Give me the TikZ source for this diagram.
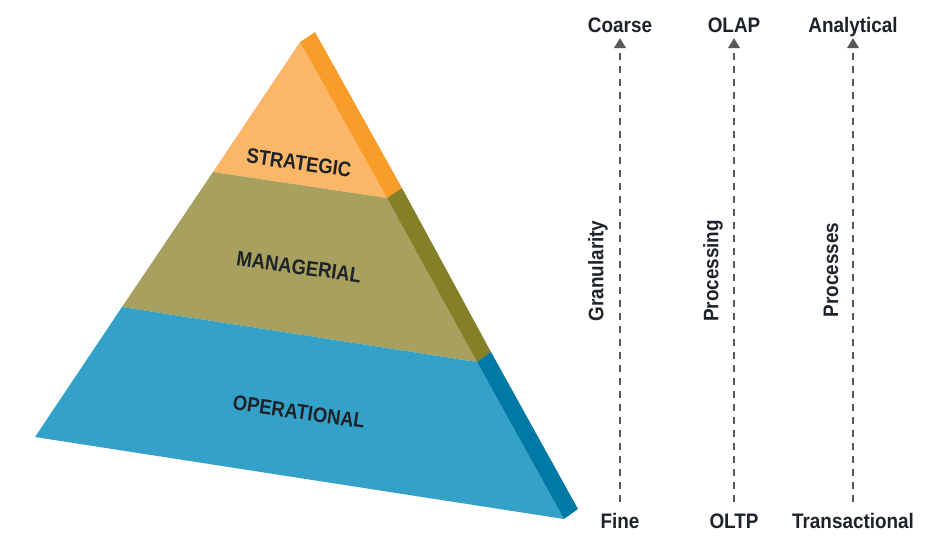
\documentclass[tikz,border=0pt]{standalone}
\usepackage{fontspec}
\setmainfont{Liberation Sans}
\usepackage{tikz}
\usepackage{xcolor}
\usetikzlibrary{
    arrows.meta,
    calc,
    positioning
}
\definecolor{strfront}{HTML}{FBB767}
\definecolor{strside}{HTML}{F89D29}
\definecolor{manfront}{HTML}{A7A05E}
\definecolor{manside}{HTML}{857F27}
\definecolor{opfront}{HTML}{33A1C8}
\definecolor{opside}{HTML}{0079A4}
\definecolor{labeltext}{HTML}{1E2329}
\definecolor{axisgray}{HTML}{58595B}
\tikzset{levellabel/.style={text=labeltext, font=\fontsize{21}{23}\selectfont\bfseries, rotate=-8, xscale=0.88, inner sep=0pt}}
\tikzset{endlabel/.style={text=labeltext, font=\fontsize{21}{23}\selectfont\bfseries, xscale=0.9, anchor=base, text height=15pt, text depth=0pt, inner sep=3pt}}
\tikzset{axislabel/.style={text=labeltext, font=\fontsize{21}{23}\selectfont\bfseries, rotate=90, xscale=0.9, inner sep=0pt}}
\tikzset{axisline/.style={draw=axisgray, line width=1.2pt, dash pattern=on 7pt off 6pt, -{Triangle[width=12pt, length=10pt]}, shorten >=3pt, shorten <=8pt}}

\begin{document}
\begin{tikzpicture}[x=1pt, y=-1pt]
                        \useasboundingbox (0, 0) rectangle (938, 560);

                        % pyramid, front faces
                        \fill[strfront] (300, 42) -- (213, 172) -- (387, 198) -- cycle;
                        \fill[manfront] (213, 172) -- (122, 307) -- (477, 362) -- (387, 198) -- cycle;
                        \fill[opfront] (122, 307) -- (35, 437) -- (564, 519) -- (477, 362) -- cycle;

                        % pyramid, side faces
                        \fill[strside] (300, 42) -- (315, 32) -- (402, 188) -- (387, 198) -- cycle;
                        \fill[manside] (387, 198) -- (402, 188) -- (491, 352) -- (477, 362) -- cycle;
                        \fill[opside] (477, 362) -- (491, 352) -- (578, 509) -- (564, 519) -- cycle;

                        \node[levellabel] (strategic) at (299, 163) {STRATEGIC};
                        \node[levellabel] (managerial) at (299, 267) {MANAGERIAL};
                        \node[levellabel] (operational) at (299, 412) {OPERATIONAL};

                        % axes
                        \node[endlabel] (coarse) at (620, 32) {Coarse};
                        \node[endlabel] (fine) at (620, 528) {Fine};
                        \node[endlabel] (olap) at (734, 32) {OLAP};
                        \node[endlabel] (oltp) at (734, 528) {OLTP};
                        \node[endlabel] (analytical) at (853, 32) {Analytical};
                        \node[endlabel] (transactional) at (853, 528) {Transactional};

                        \draw[axisline] (fine.north) -- (coarse.south);
                        \draw[axisline] (oltp.north) -- (olap.south);
                        \draw[axisline] (transactional.north) -- (analytical.south);

                        \node[axislabel] (granularity) at (598, 271) {Granularity};
                        \node[axislabel] (processing) at (713, 271) {Processing};
                        \node[axislabel] (processes) at (831, 270) {Processes};
                    \end{tikzpicture}
\end{document}
